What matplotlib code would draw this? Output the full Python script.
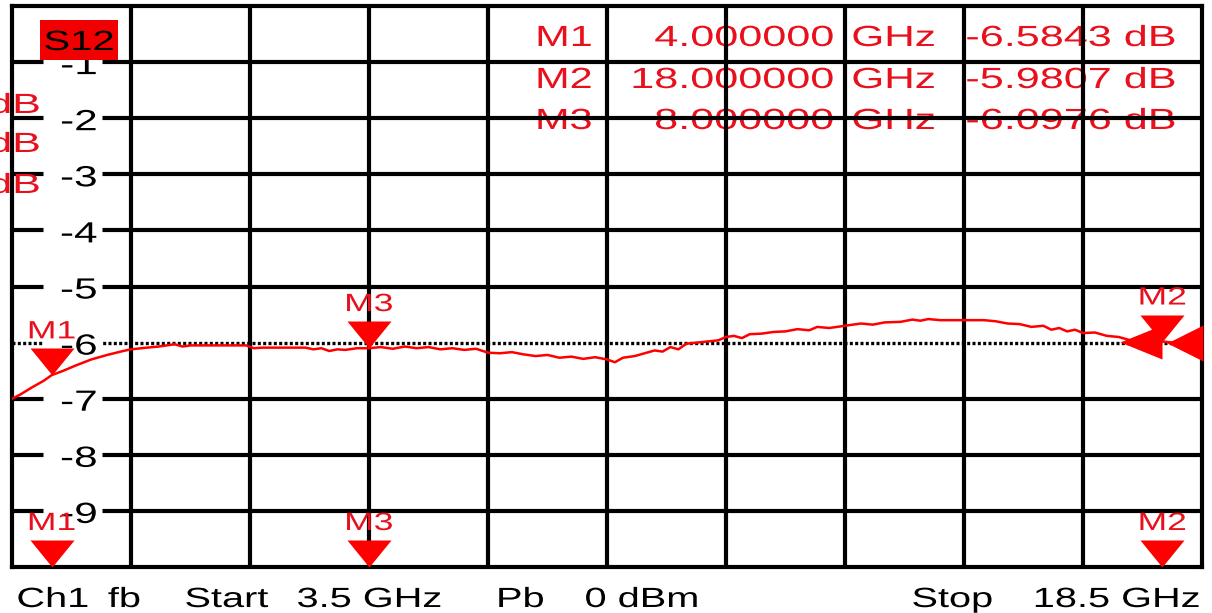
import matplotlib
matplotlib.use('Agg')
import matplotlib.pyplot as plt
from matplotlib import patheffects
from matplotlib.transforms import Affine2D
from matplotlib.path import Path
from matplotlib.patches import Rectangle

# ---------------- data ----------------
trace_name = 'S12'
freq_ghz = [3.50, 3.60, 3.75, 3.90, 4.00, 4.15, 4.30, 4.50, 4.70, 4.90, 5.00, 5.20,
            5.35, 5.45, 5.55, 5.65, 5.75, 6.00, 6.25, 6.45, 6.55, 6.65, 6.80, 7.00,
            7.20, 7.30, 7.40, 7.50, 7.60, 7.70, 7.85, 8.00, 8.15, 8.30, 8.45, 8.60,
            8.75, 8.90, 9.05, 9.20, 9.35, 9.50, 9.65, 9.80, 9.95, 10.10, 10.25, 10.40,
            10.55, 10.70, 10.85, 11.00, 11.10, 11.20, 11.35, 11.50, 11.60, 11.70, 11.80,
            11.90, 12.00, 12.20, 12.40, 12.50, 12.60, 12.70, 12.80, 12.95, 13.10, 13.25,
            13.40, 13.55, 13.65, 13.80, 14.00, 14.20, 14.35, 14.50, 14.70, 14.85, 14.95,
            15.05, 15.20, 15.50, 15.75, 15.90, 16.05, 16.20, 16.35, 16.50, 16.60, 16.70,
            16.80, 16.90, 17.00, 17.15, 17.30, 17.45, 17.60, 17.80, 18.00, 18.20, 18.35,
            18.50]
s12_db = [-7.00, -6.93, -6.80, -6.68, -6.58, -6.50, -6.41, -6.30, -6.22, -6.15, -6.12, -6.09,
          -6.07, -6.05, -6.03, -6.07, -6.05, -6.05, -6.05, -6.05, -6.10, -6.09, -6.09, -6.09,
          -6.09, -6.12, -6.10, -6.15, -6.12, -6.13, -6.10, -6.10, -6.08, -6.11, -6.07, -6.10,
          -6.08, -6.12, -6.10, -6.13, -6.11, -6.18, -6.19, -6.17, -6.21, -6.24, -6.22, -6.27,
          -6.25, -6.29, -6.26, -6.30, -6.35, -6.27, -6.24, -6.18, -6.14, -6.16, -6.08,
          -6.12, -6.02, -5.99, -5.96, -5.90, -5.88, -5.92, -5.85, -5.84, -5.81, -5.80,
          -5.76, -5.78, -5.72, -5.74, -5.70, -5.66, -5.68, -5.64, -5.63, -5.59, -5.61,
          -5.58, -5.60, -5.60, -5.60, -5.62, -5.66, -5.67, -5.72, -5.70, -5.77, -5.74,
          -5.80, -5.77, -5.83, -5.82, -5.88, -5.90, -5.96, -5.97, -5.98, -6.01, -6.00,
          -6.03]

x_grid = [3.5, 5.0, 6.5, 8.0, 9.5, 11.0, 12.5, 14.0, 15.5, 17.0, 18.5]
y_grid = [0, -1, -2, -3, -4, -5, -6, -7, -8, -9, -10]
y_tick_values = [-1, -2, -3, -4, -5, -6, -7, -8, -9]
y_tick_labels = ['-1', '-2', '-3', '-4', '-5', '-6', '-7', '-8', '-9']
ref_level_db = -6

marker_names = ['M1', 'M2', 'M3']
marker_freq_ghz = [4.0, 18.0, 8.0]
marker_db = [-6.5843, -5.9807, -6.0976]

footer_left = ['Ch1', 'fb', 'Start', '3.5 GHz', 'Pb', '0 dBm', 'Stop']
footer_right = '18.5 GHz'

# ---------------- helpers ----------------
W, H = 1212, 613
RED = '#ff0000'
TRED = '#e8101c'
FONT = 'Liberation Sans'


class HStretch(patheffects.AbstractPathEffect):
    """Stretch rendered text horizontally (instrument screen font is wide)."""
    def __init__(self, sx, anchor='left'):
        super().__init__()
        self.sx = sx
        self.anchor = anchor

    def draw_path(self, renderer, gc, tpath, affine, rgbFace=None):
        bb = tpath.get_extents(affine)
        x0 = {'left': bb.x0, 'right': bb.x1, 'center': 0.5 * (bb.x0 + bb.x1)}[self.anchor]
        aff = affine + Affine2D().translate(-x0, 0).scale(self.sx, 1).translate(x0, 0)
        renderer.draw_path(gc, tpath, aff, rgbFace)


fig = plt.figure(figsize=(W / 100, H / 100), dpi=100)
fig.patch.set_facecolor('white')
ax = fig.add_axes([12 / W, (H - 567) / H, 1190 / W, 561 / H])
ax.set_xlim(x_grid[0], x_grid[-1])
ax.set_ylim(y_grid[-1], y_grid[0])
ax.set_xticks([])
ax.set_yticks([])
for sp in ax.spines.values():
    sp.set_linewidth(3)
    sp.set_color('black')
    sp.set_zorder(2.5)


def ftext(x_px, y_px, s, size, sx, ha='left', color=TRED, zorder=4):
    """Text placed in figure pixel coordinates (baseline at y_px)."""
    return ax.text(x_px / W, 1 - y_px / H, s, transform=fig.transFigure, fontsize=size,
                   ha=ha, va='baseline', color=color, family=FONT, clip_on=False,
                   zorder=zorder, path_effects=[HStretch(sx, ha)])


# grid
for xg in x_grid[1:-1]:
    ax.axvline(xg, color='black', lw=3, zorder=2)
for yg in y_grid[1:-1]:
    if yg == ref_level_db:
        continue
    ax.axhline(yg, color='black', lw=3, zorder=2)
ax.axhline(ref_level_db, color='black', lw=2.4, dashes=(0.9, 0.7), zorder=2)

# y tick labels inside the grid, with gaps in the grid lines
ytr = ax.get_yaxis_transform()
dy_px = 12 * (y_grid[0] - y_grid[-1]) / 561
for v, lab in zip(y_tick_values, y_tick_labels):
    ax.plot([0.026, 0.0756], [v, v], transform=ytr, color='white', lw=5,
            solid_capstyle='butt', zorder=2.6)
    ax.text(0.0714, v - dy_px, lab, transform=ytr, fontsize=21, ha='right',
            va='baseline', color='black', family=FONT, zorder=4,
            path_effects=[HStretch(1.45, 'right')])

# trace label box
ax.add_patch(Rectangle((40 / W, 1 - 60 / H), 78 / W, 40 / H, transform=fig.transFigure,
                       facecolor='#f00000', edgecolor='none', zorder=6, clip_on=False))
ftext(79, 50, trace_name, 20, 1.44, ha='center', color='black', zorder=7)

# cut-off scale texts at the left edge
for yb in [113, 152, 193]:
    ftext(40, yb, 'dB', 20, 1.55, ha='right', color=TRED, zorder=3)

# marker table
row_base = [46, 88, 129]
for name, f, v, yb in zip(marker_names, marker_freq_ghz, marker_db, row_base):
    ftext(592, yb, name, 21, 1.42, ha='right', zorder=1.5)
    ftext(833, yb, f'{f:.6f}', 21, 1.48, ha='right', zorder=1.5)
    ftext(852, yb, 'GHz', 21, 1.45, ha='left', zorder=1.5)
    ftext(966, yb, f'{v:.4f} dB', 21, 1.48, ha='left', zorder=1.5)

# trace
ax.plot(freq_ghz, s12_db, color=RED, lw=1.8, zorder=5, solid_joinstyle='round')

# marker symbols
down_tri = Path([(-22, 27), (22, 27), (0, 0), (-22, 27)], closed=True)
left_tri_tip = Path([(0, 0), (36, 18), (36, -18), (0, 0)], closed=True)
left_tri_base = Path([(-42, 0), (0, 17), (0, -17), (-42, 0)], closed=True)
PT = 0.72
for name, f, v in zip(marker_names, marker_freq_ghz, marker_db):
    # on-trace marker
    ax.plot([f], [v], marker=down_tri, ms=54 * PT, color=RED, mew=0, zorder=6, clip_on=False)
    ax.annotate(name, (f, v), xytext=(0, 37 * PT), textcoords='offset points', ha='center',
                va='baseline', fontsize=18, color=TRED, family=FONT, zorder=7,
                path_effects=[HStretch(1.42, 'center')], annotation_clip=False)
    # stimulus marker on the bottom edge
    ax.plot([f], [y_grid[-1]], marker=down_tri, ms=54 * PT, color=RED, mew=0, zorder=6,
            clip_on=False)
    ax.annotate(name, (f, y_grid[-1]), xytext=(0, 37 * PT), textcoords='offset points',
                ha='center', va='baseline', fontsize=18, color=TRED, family=FONT, zorder=7,
                path_effects=[HStretch(1.42, 'center')], annotation_clip=False)

# active marker pointer next to M2 and reference level arrow on the right edge
ax.plot([marker_freq_ghz[1]], [marker_db[1]], marker=left_tri_base, ms=84 * PT, color=RED,
        mew=0, zorder=6, clip_on=False)
ax.plot([0.9706], [ref_level_db], transform=ytr, marker=left_tri_tip, ms=72 * PT, color=RED,
        mew=0, zorder=6, clip_on=False)

# footer
footer_x = [17, 108, 185, 297, 497, 585, 912]
for s, xp in zip(footer_left, footer_x):
    ftext(xp, 607, s, 20, 1.43, ha='left', color='black')
ftext(1200, 607, footer_right, 20, 1.43, ha='right', color='black')

fig.savefig('out.png', dpi=100, facecolor='white')
